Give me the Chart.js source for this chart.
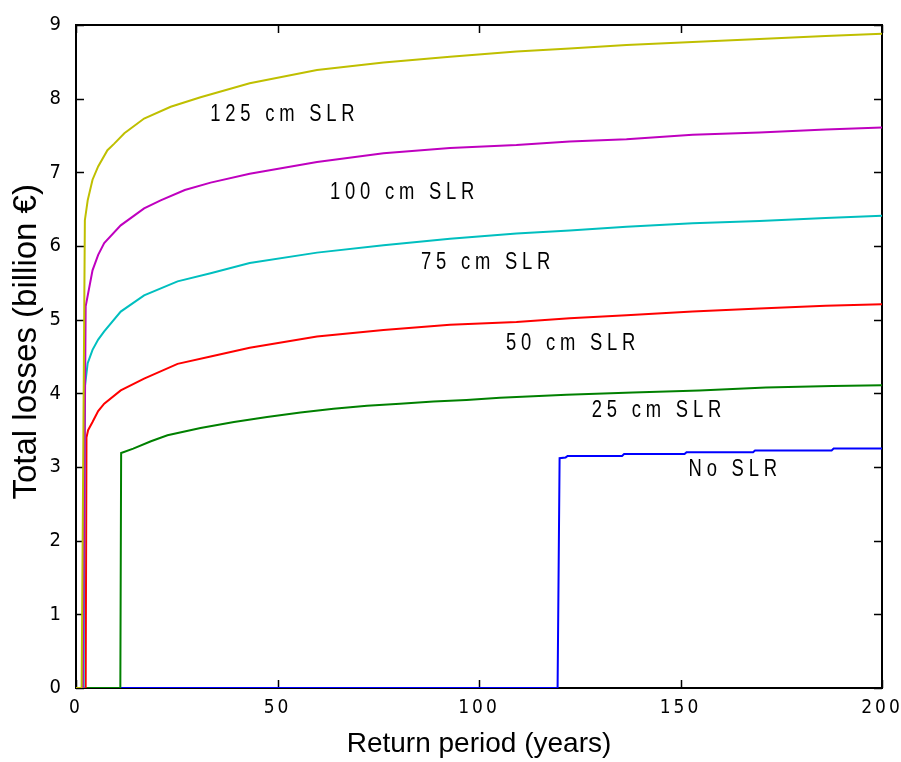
<!DOCTYPE html>
<html>
<head>
<meta charset="utf-8">
<script src="https://cdn.jsdelivr.net/npm/chart.js@4/dist/chart.umd.min.js"></script>
<style>
  html, body { margin: 0; padding: 0; background: #ffffff; }
  #wrap { width: 901px; height: 762px; }
</style>
</head>
<body>
<div id="wrap"><canvas id="c" width="901" height="762"></canvas></div>
<script>
// Total flood losses against return period, one curve per sea-level-rise scenario.

// 125 cm SLR
const slr125X = [0, 1.4, 2.2, 2.9, 4.1, 5.5, 7.8, 9.5, 12.0, 16.9, 23.5, 30.9, 43.1, 59.8, 76.3, 92.8, 109.3, 122.5, 136.6, 153.0, 169.6, 186.0, 200];
const slr125Y = [0, 0, 6.35, 6.62, 6.90, 7.08, 7.30, 7.39, 7.53, 7.73, 7.89, 8.02, 8.21, 8.39, 8.49, 8.57, 8.64, 8.68, 8.73, 8.77, 8.81, 8.85, 8.88];

// 100 cm SLR
const slr100X = [0, 1.7, 2.4, 4.1, 5.5, 7.0, 11.1, 16.9, 21.0, 27.0, 33.4, 43.1, 59.8, 76.3, 92.8, 109.3, 122.5, 136.6, 153.0, 169.6, 186.0, 200];
const slr100Y = [0, 0, 5.18, 5.67, 5.88, 6.04, 6.28, 6.51, 6.62, 6.76, 6.86, 6.98, 7.14, 7.26, 7.33, 7.37, 7.42, 7.45, 7.51, 7.54, 7.58, 7.61];

// 75 cm SLR
const slr75X = [0, 1.9, 2.2, 2.9, 4.1, 5.5, 7.0, 11.1, 16.9, 25.2, 33.4, 43.1, 59.8, 76.3, 92.8, 109.3, 122.5, 136.6, 153.0, 169.6, 186.0, 200];
const slr75Y = [0, 0, 4.09, 4.41, 4.59, 4.73, 4.84, 5.11, 5.33, 5.52, 5.63, 5.77, 5.91, 6.01, 6.10, 6.17, 6.21, 6.26, 6.31, 6.34, 6.38, 6.41];

// 50 cm SLR
const slr50X = [0, 2.4, 2.6, 3.0, 4.1, 5.5, 7.0, 11.1, 16.9, 25.2, 33.4, 43.1, 59.8, 76.3, 92.8, 109.3, 122.5, 136.6, 153.0, 169.6, 186.0, 200];
const slr50Y = [0, 0, 3.40, 3.50, 3.61, 3.76, 3.86, 4.04, 4.20, 4.40, 4.50, 4.62, 4.77, 4.86, 4.93, 4.97, 5.02, 5.06, 5.11, 5.15, 5.19, 5.21];

// 25 cm SLR
const slr25X = [0, 11.0, 11.2, 14.2, 18.6, 22.7, 30.9, 39.2, 47.4, 55.7, 63.9, 72.2, 80.4, 88.7, 96.9, 105.2, 121.7, 138.2, 154.7, 171.2, 187.7, 200];
const slr25Y = [0, 0, 3.19, 3.25, 3.35, 3.43, 3.53, 3.61, 3.68, 3.74, 3.79, 3.83, 3.86, 3.89, 3.91, 3.94, 3.98, 4.01, 4.04, 4.08, 4.10, 4.11];

// No SLR
const slr0X = [0, 119.5, 120.0, 121.5, 122.0, 135.5, 136.0, 151.0, 151.5, 168.0, 168.5, 187.5, 188.0, 200];
const slr0Y = [0, 0, 3.12, 3.13, 3.15, 3.15, 3.175, 3.175, 3.20, 3.20, 3.225, 3.225, 3.25, 3.25];

const seriesNames  = ['125 cm SLR', '100 cm SLR', '75 cm SLR', '50 cm SLR', '25 cm SLR', 'No SLR'];
const seriesColors = ['#bfbf00', '#bf00bf', '#00bfbf', '#ff0000', '#008000', '#0000ff'];
const seriesX = [slr125X, slr100X, slr75X, slr50X, slr25X, slr0X];
const seriesY = [slr125Y, slr100Y, slr75Y, slr50Y, slr25Y, slr0Y];

// Where each curve's name is written: [return period at text start, loss at text middle]
const labelAnchors = [[33.3, 7.78], [63.0, 6.73], [85.6, 5.77], [106.7, 4.68], [128.0, 3.77], [152.0, 2.96]];

const xTicks = [0, 50, 100, 150, 200];
const yTicks = [0, 1, 2, 3, 4, 5, 6, 7, 8, 9];
const xTitle = 'Return period (years)';
const yTitle = 'Total losses (billion €)';

const CONDENSED = '"DejaVu Sans Condensed", "Liberation Sans Narrow", sans-serif';
const REGULAR = '"Liberation Sans", Arial, sans-serif';
const TICK_LEN = 8;
const NAME_SQUEEZE = 0.8;   // horizontal compression of the curve names

const datasets = seriesNames.map((name, i) => ({
  label: name,
  data: seriesX[i].map((x, j) => ({ x: x, y: seriesY[i][j] })),
  borderColor: seriesColors[i],
  backgroundColor: seriesColors[i],
  borderWidth: 2,
  pointRadius: 0,
  tension: 0,
  fill: false
}));

// Box frame, inward tick marks, vertical axis title and curve names
const framePlugin = {
  id: 'frame',
  beforeDatasetsDraw(chart) {
    const { ctx, chartArea: a } = chart;
    const xs = chart.scales.x, ys = chart.scales.y;
    ctx.save();
    ctx.strokeStyle = '#000';
    ctx.lineWidth = 2;
    ctx.strokeRect(a.left, a.top, a.right - a.left, a.bottom - a.top);
    ctx.lineWidth = 1.5;
    ctx.beginPath();
    xs.ticks.forEach(t => {
      const p = Math.round(xs.getPixelForValue(t.value)) + 0.5;
      ctx.moveTo(p, a.bottom); ctx.lineTo(p, a.bottom - TICK_LEN);
      ctx.moveTo(p, a.top); ctx.lineTo(p, a.top + TICK_LEN);
    });
    ys.ticks.forEach(t => {
      const p = Math.round(ys.getPixelForValue(t.value)) + 0.5;
      ctx.moveTo(a.left, p); ctx.lineTo(a.left + TICK_LEN, p);
      ctx.moveTo(a.right, p); ctx.lineTo(a.right - TICK_LEN, p);
    });
    ctx.stroke();

    // vertical axis title, set a little above the middle of the box
    ctx.translate(27, ys.getPixelForValue(4.7));
    ctx.rotate(-Math.PI / 2);
    ctx.fillStyle = '#000';
    ctx.font = '33px ' + REGULAR;
    ctx.textAlign = 'center';
    ctx.textBaseline = 'middle';
    ctx.fillText(yTitle, 0, 0);
    ctx.restore();
  },
  afterDatasetsDraw(chart) {
    const { ctx } = chart;
    const xs = chart.scales.x, ys = chart.scales.y;
    seriesNames.forEach((name, i) => {
      const [lx, ly] = labelAnchors[i];
      ctx.save();
      ctx.translate(xs.getPixelForValue(lx), ys.getPixelForValue(ly));
      ctx.scale(NAME_SQUEEZE, 1);
      ctx.fillStyle = '#000';
      ctx.font = '23px ' + REGULAR;
      ctx.letterSpacing = '6px';
      ctx.textAlign = 'left';
      ctx.textBaseline = 'middle';
      ctx.fillText(name, 0, 0);
      ctx.restore();
    });
    // spaced digits for the return-period tick labels drawn next
    ctx.letterSpacing = '3px';
  },
  afterDraw(chart) {
    chart.ctx.letterSpacing = '0px';
  }
};

new Chart(document.getElementById('c'), {
  type: 'line',
  data: { datasets: datasets },
  options: {
    responsive: false,
    animation: false,
    devicePixelRatio: 1,
    layout: { padding: { left: 0, right: 19, top: 25, bottom: 0 } },
    plugins: { legend: { display: false }, tooltip: { enabled: false } },
    scales: {
      x: {
        type: 'linear',
        min: 0, max: 200,
        afterBuildTicks: s => { s.ticks = xTicks.map(v => ({ value: v })); },
        afterFit: s => { s.height = 74; s.paddingLeft = 0; s.paddingRight = 0; },
        grid: { display: false, drawTicks: false },
        border: { display: false },
        ticks: {
          z: 1,
          padding: 9,
          maxRotation: 0,
          autoSkip: false,
          color: '#000',
          font: { family: CONDENSED, size: 19 }
        },
        title: {
          display: true,
          text: xTitle,
          color: '#000',
          font: { family: REGULAR, size: 28 },
          padding: { top: 0, bottom: 1 }
        }
      },
      y: {
        type: 'linear',
        min: 0, max: 9,
        afterBuildTicks: s => { s.ticks = yTicks.map(v => ({ value: v })); },
        afterFit: s => { s.width = 76; s.paddingTop = 0; s.paddingBottom = 0; },
        grid: { display: false, drawTicks: false },
        border: { display: false },
        ticks: {
          padding: 15,
          autoSkip: false,
          color: '#000',
          font: { family: CONDENSED, size: 20 }
        },
        title: { display: false }
      }
    }
  },
  plugins: [framePlugin]
});
</script>
</body>
</html>
